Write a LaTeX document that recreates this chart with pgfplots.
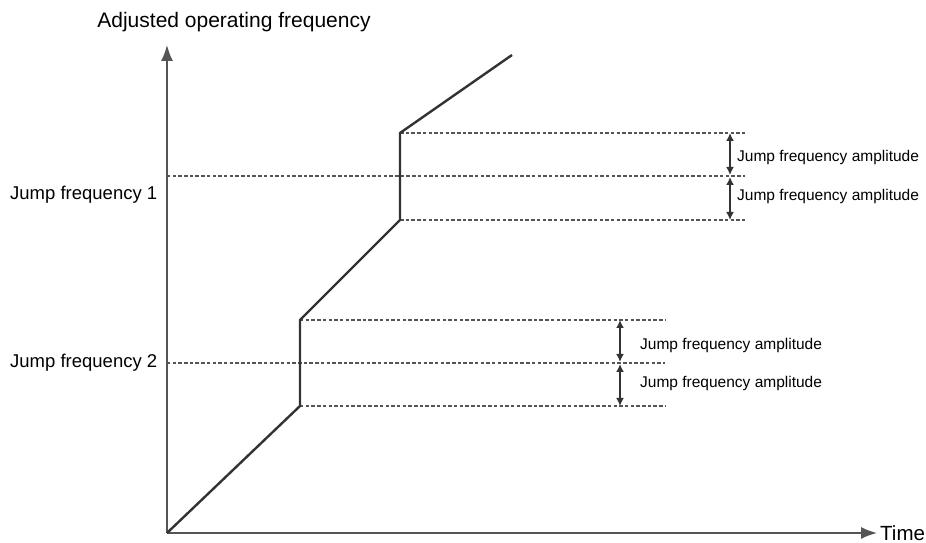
\documentclass[border=0pt]{standalone}
\usepackage{pgfplots}
\pgfplotsset{compat=1.18}
\usepackage{fontspec}
\setmainfont{Liberation Sans}
\usetikzlibrary{arrows.meta}

\definecolor{curve}{HTML}{333333}
\definecolor{guide}{HTML}{555555}

\begin{document}
\begin{tikzpicture}
\begin{axis}[
    scale only axis,
    width=710pt, height=488pt,
    xmin=0, xmax=710, ymin=0, ymax=488,
    axis lines=left,
    axis line style={line width=1.6pt, draw=guide, -{Latex[length=16pt,width=12pt]}},
    ticks=none,
    clip=false,
    guide/.style={line width=1.7pt, draw=guide, dash pattern=on 3.5pt off 2.2pt},
    amp/.style={line width=1.6pt, draw=curve, {Latex[length=8pt,width=8pt]}-{Latex[length=8pt,width=8pt]}},
]
% guide lines
\addplot[guide] coordinates {(0,357) (578,357)};
\addplot[guide] coordinates {(233,400) (578,400)};
\addplot[guide] coordinates {(233,313) (578,313)};
\addplot[guide] coordinates {(0,170) (498,170)};
\addplot[guide] coordinates {(133,213) (498,213)};
\addplot[guide] coordinates {(133,127) (498,127)};

% adjusted frequency
\addplot[line width=2.4pt, draw=curve, line join=round] coordinates {
    (0,0) (133,127) (133,213) (233,313) (233,400) (345,478)
};

% amplitude arrows
\addplot[amp] coordinates {(563,400) (563,358)};
\addplot[amp] coordinates {(563,356) (563,313)};
\addplot[amp] coordinates {(453,213) (453,171)};
\addplot[amp] coordinates {(453,169) (453,127)};

\node[font=\fontsize{21}{24}\selectfont] at (axis cs:67,511) {Adjusted operating frequency};
\node[font=\fontsize{20.5}{24}\selectfont, anchor=west, inner sep=1pt] at (axis cs:712,0) {Time};
\node[font=\fontsize{18.5}{22}\selectfont, anchor=west, inner sep=0pt] at (axis cs:-157,338) {Jump frequency 1};
\node[font=\fontsize{18.5}{22}\selectfont, anchor=west, inner sep=0pt] at (axis cs:-157,170) {Jump frequency 2};
\node[font=\fontsize{15.5}{18}\selectfont, anchor=west, inner sep=0pt] at (axis cs:570,376) {Jump frequency amplitude};
\node[font=\fontsize{15.5}{18}\selectfont, anchor=west, inner sep=0pt] at (axis cs:570,337) {Jump frequency amplitude};
\node[font=\fontsize{15.5}{18}\selectfont, anchor=west, inner sep=0pt] at (axis cs:473,188) {Jump frequency amplitude};
\node[font=\fontsize{15.5}{18}\selectfont, anchor=west, inner sep=0pt] at (axis cs:473,150) {Jump frequency amplitude};
\end{axis}
\useasboundingbox (-167pt,-10pt) rectangle (759pt,533pt);
\end{tikzpicture}
\end{document}
